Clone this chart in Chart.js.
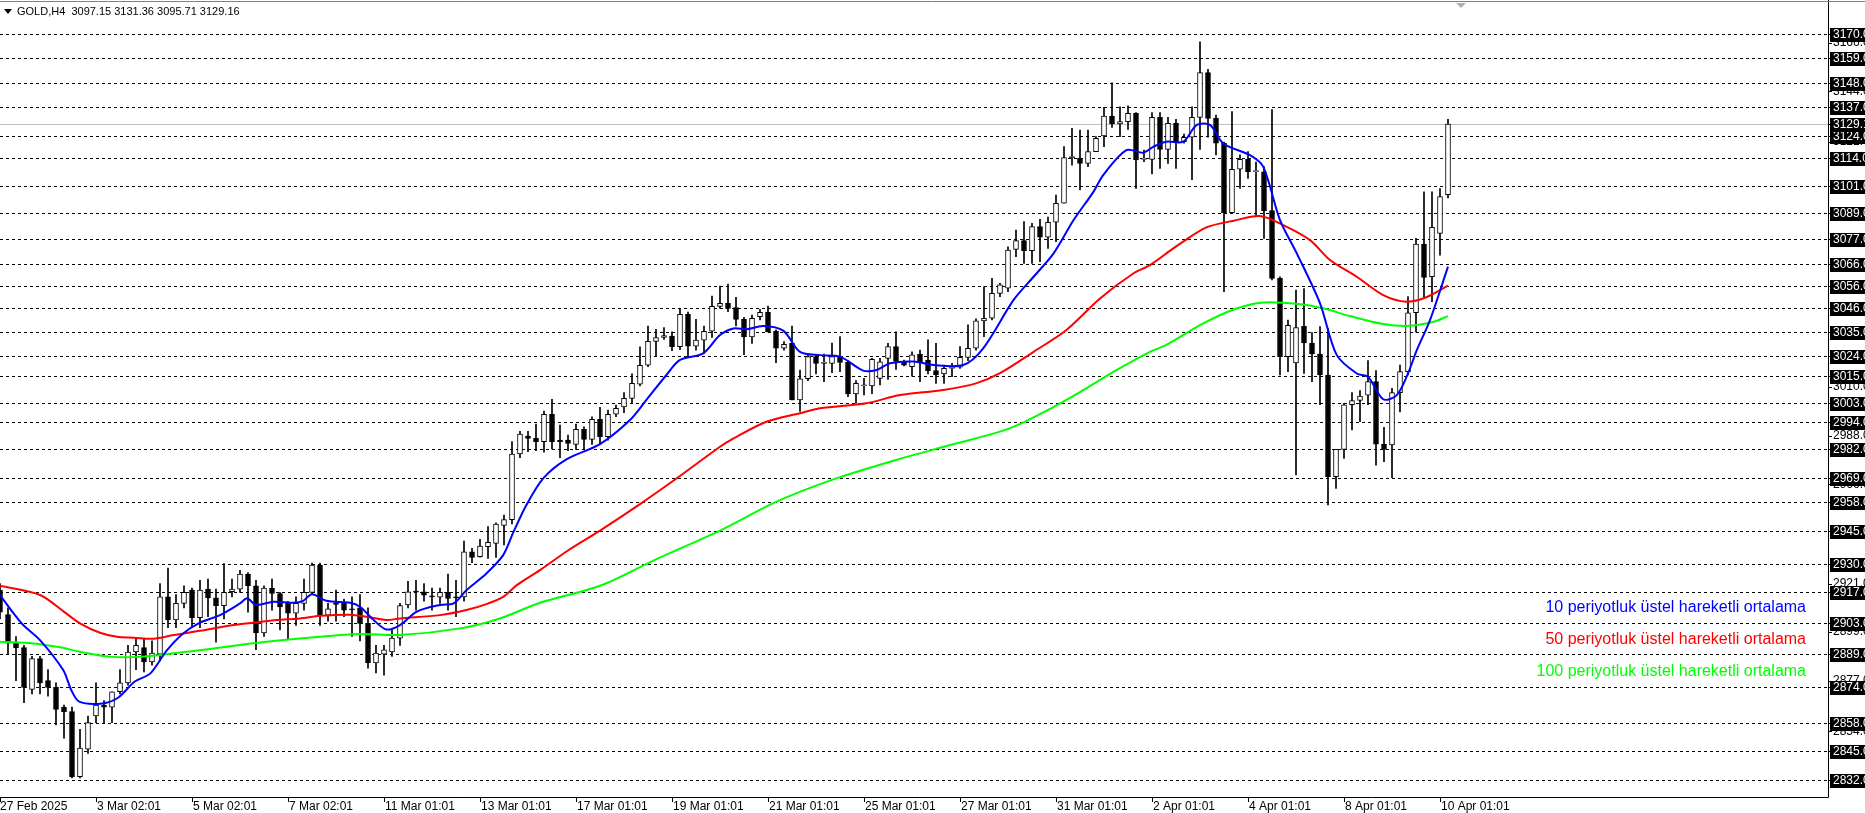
<!DOCTYPE html>
<html><head><meta charset="utf-8">
<script src="https://cdn.jsdelivr.net/npm/chart.js@4.4.1/dist/chart.umd.min.js"></script>
<style>html,body{margin:0;padding:0;background:#fff;overflow:hidden}#wrap{width:1865px;height:813px;position:relative}</style>
</head><body><div id="wrap"><canvas id="c"></canvas></div>
<script>
// ---- DATA ----
const opens = [2918,2907,2894,2892,2873,2887,2877,2874,2865,2863,2833.5,2846,2861,2866,2865,2872,2876,2890,2892,2885.5,
2889,2915,2904.5,2912,2918,2905.5,2918.5,2914.5,2911,2917.3,2918.5,2925.3,2920,2898.6,2919,2916.5,2912,2907.6,2912,2917,
2929.4,2906.7,2912.3,2912,2909.3,2910,2903,2885,2889,2890,2896.3,2911.3,2917.3,2917.3,2915,2914.8,2917,2914.6,2915,2935.4,
2933.2,2937.7,2939.2,2947.3,2950,2979.7,2987.8,2986.8,2985.3,2997.7,2986,2986,2984,2990.9,2986.3,2995.4,2987.6,2997.7,3001,3004.9,
3011.3,3019.9,3030.7,3032.5,3033.1,3028.3,3043,3028.6,3031.3,3035.3,3046.6,3048,3046.1,3040.7,3032.8,3041.9,3043.9,3035.4,3027.6,3029.8,
3004.2,3013.8,3023.8,3020.8,3020.8,3023.5,3021.2,3006.9,3010.5,3010.5,3014,3023,3028.4,3021.6,3019.3,3025,3022.3,3017.5,3016,3018.5,
3019,3023.5,3027.6,3040,3041.2,3052.5,3054.8,3072.4,3076.4,3071.8,3082.7,3077.9,3084.7,3093.3,3114,3113.7,3111.4,3116.7,3123.8,3132.8,
3129.2,3130.3,3134,3113.2,3113.2,3132.2,3117.7,3129.5,3121.2,3123.2,3132.2,3152.5,3131.8,3120.5,3089,3108.7,3113.2,3107.6,3107.6,3090,
3059.3,3023.8,3021,3037.6,3030,3025,3015.5,2969.4,2981.8,3002,3004,3006.4,3012.5,2984.2,2983.8,3007.5,3017,3043.7,3074.8,3060,
3079.7,3097.15];
const highs = [2921,2910,2897,2893,2888,2888,2882,2876,2866,2865,2855,2861,2876,2868,2872,2882,2893,2896,2896,2895,
2921,2928,2916,2920,2919,2922.5,2923,2918.5,2930,2923,2927,2926,2922.5,2920,2923,2917,2913,2915,2923,2930.3,
2930.3,2912,2918,2914,2915,2916,2910,2893,2893,2900,2912,2922,2922.5,2921,2919,2919,2925.3,2922.5,2940.3,2937,
2941,2946.8,2948.5,2952,2985.3,2990,2990,2993.3,2999.2,3004.5,2992.8,2988.3,2993.3,2992,2996.6,3000.8,2999.6,3001.9,3007.5,3016,
3028.3,3037.7,3036.2,3037,3035,3045.2,3044,3040.7,3037.7,3051.3,3055.8,3056.7,3050.7,3041.6,3042.7,3045.2,3046.7,3036,3030.6,3037.7,
3017.7,3024.5,3024.5,3025,3030,3032.9,3022,3013,3014,3023,3023,3029.9,3035.1,3022.3,3026,3026.8,3031.4,3029.9,3020,3020.8,
3028.4,3038.2,3041,3055.5,3059.3,3057,3073.6,3081.2,3085,3084.2,3086,3087,3097,3119,3127.3,3126.5,3126.5,3123.5,3136.8,3147.9,
3137,3137.4,3134.4,3117.4,3134.4,3134.4,3132.2,3131.3,3124.7,3137,3166.5,3154,3133.3,3121,3134.8,3115.2,3116.7,3112,3109.9,3135.8,
3060,3040.4,3054,3054.7,3034.7,3037.4,3036.6,2981.8,3002.7,3007.5,3008.4,3022,3017.5,2991.8,3009.5,3020,3051,3077.4,3098.5,3098.5,
3100,3131.36];
const lows = [2905,2889,2877,2867,2871,2871,2870,2857,2851,2833,2833,2844,2858,2858,2858,2871,2875,2882,2881,2884,
2886,2901,2901,2910,2901,2901,2906,2894.5,2905,2915,2917,2908,2891,2897,2909,2900,2896,2902,2909,2916,
2902,2904,2904,2906,2897,2895,2882.7,2880.5,2879.5,2888,2893,2910,2909,2913,2909,2912,2909,2906,2913,2930.5,
2933,2932.4,2932.9,2938.5,2948,2978,2980.8,2981.2,2980.5,2982,2978,2981.2,2981.8,2982.1,2984,2984.2,2986,2996.6,2998.4,3003,
3010.5,3019.3,3024,3031.6,3026.5,3027,3023.5,3026.8,3025.3,3032.5,3045.7,3044.2,3037.7,3024.7,3029.8,3040.4,3035,3021.1,3026.8,3004.2,
2999,3012.9,3016,3012.5,3016.6,3017,3005.7,3002.7,3006.5,3007,3011,3013.5,3018,3019.6,3015,3012.5,3016,3011.7,3011.7,3014.7,
3018.5,3022,3026.8,3032.9,3040.4,3051,3053.3,3069.1,3066,3066,3066.9,3072.9,3075.9,3093.3,3110.6,3099.3,3109.9,3116.7,3119,3127.7,
3123.5,3126.8,3100,3112.1,3106.6,3109.1,3111.4,3109.1,3120.5,3104,3117.7,3123.2,3115.2,3053.3,3088.7,3100,3104.6,3087.2,3077.4,3058.6,
3015.5,3017,2970.2,3016.2,3012.5,3002,2956.6,2964.1,2977.7,2990.6,2994.4,3002,2974.7,2976.2,2969,2998.8,3015.5,3035,3050.7,3048.7,
3069.8,3095.71];
const closes = [2908,2894,2892,2874,2887,2876,2874,2864,2863,2833.5,2846.5,2858,2866,2865,2872,2876,2890,2893,2885.5,2889.5,
2915,2904.5,2912,2917,2905.5,2918,2914.5,2911,2917,2918.5,2925.3,2920,2898.6,2919,2916.5,2910.4,2907.6,2912,2917,2929.4,
2906.7,2909.5,2911.6,2909,2909.1,2903,2885,2889.5,2891,2896.3,2911,2917.3,2917.1,2915.8,2914.9,2917,2914.3,2914.5,2935.4,2932.9,
2938,2939.7,2947.9,2950,2979.7,2988.7,2986.8,2985.3,2997.7,2985.3,2985.3,2984.5,2990.9,2986.3,2995.4,2987.6,2997.7,3000.4,3004.9,3011.7,
3019.9,3030.7,3032.5,3033.4,3028.3,3043,3028.6,3031.3,3035.3,3046.6,3048,3045.7,3040.7,3032.8,3041.2,3043.9,3035,3027.6,3029.4,3004.2,
3013.8,3023.8,3020.8,3020.8,3023.8,3021.2,3006.9,3011.7,3010.5,3022.6,3021.5,3028.4,3021.6,3020,3024.6,3021,3017.5,3015.5,3018.5,3018.5,
3023.5,3027.6,3040,3041.2,3052.5,3056.3,3072.1,3076.4,3071.8,3082.7,3077.9,3084.7,3093.3,3114,3114,3111.4,3116.7,3122.7,3132.8,3129.2,
3130.3,3134,3112.9,3113.2,3132.2,3117.7,3129.5,3121.2,3123.2,3132.2,3152.5,3131.8,3120.5,3089,3108.7,3113.2,3107.6,3107.6,3090,3059.3,
3023.8,3038,3037,3030,3025,3015.5,2969.4,2981.8,3002,3003.9,3006,3012.5,2984.2,2981.8,3007.5,3017,3043.7,3074.8,3059.7,3082.4,
3096.3,3129.16];
const ema10 = [[0,2915.8],[1.7,2907.5],[2.9,2902.2],[5,2895.4],[7.9,2881.8],[8.9,2872.8],[9.9,2867.5],[12.8,2866.7],[14.8,2869.4],[16.8,2876.5],[18.8,2880.3],[20.8,2890.5],[22.9,2898.4],[25,2903.3],[27.5,2906.7],[30,2912],[30.9,2914.3],[32,2911.3],[34.2,2912.8],[36.7,2912.3],[37.9,2913.2],[39,2916.2],[40.8,2913.2],[43.75,2912.3],[45,2910.5],[46.7,2904.5],[48.3,2900.2],[50,2902.2],[52.1,2908.3],[55,2911.3],[56.7,2912],[58.3,2918],[60.8,2925.6],[62.9,2933.9],[64.2,2944.5],[65.8,2956.6],[67.9,2968.7],[70.8,2977.3],[75,2984.2],[78.75,2995.1],[80.8,3004.2],[83.3,3015.5],[85,3022.3],[87.9,3025.3],[90,3033.6],[91.7,3036.6],[93.3,3036.2],[95.4,3037.7],[97.9,3035.6],[100,3026],[102.5,3024.5],[105,3023.8],[107.9,3017.5],[109.6,3017.8],[111.25,3020.8],[114.2,3021.6],[116.7,3020],[120.4,3020],[122.9,3027.6],[126.7,3049.5],[129.2,3060],[131.7,3070.6],[134.2,3085.7],[136.7,3098.6],[137.9,3106.1],[140.8,3117.4],[142.9,3116.2],[144.2,3119],[145.8,3121.2],[147.9,3121.2],[149.6,3128.8],[151.25,3128.8],[152.9,3120.4],[156.25,3115.1],[157.9,3109.9],[160,3085.7],[162.1,3070.6],[165,3048],[167.1,3024.5],[169.6,3016.2],[171,3014.7],[172.9,3004.5],[174.6,3006.4],[176,3016.2],[177.1,3026.8],[178.75,3040.4],[181,3064.6]];
const ema50 = [[0,2920],[5,2915.8],[8,2908.2],[10,2903],[12.5,2898.7],[14.6,2896.9],[16.7,2896.5],[19.2,2896],[21.7,2897.7],[25,2899.6],[29.2,2902.2],[31.7,2903.3],[34.6,2904.5],[37.5,2905.2],[40,2906.4],[43.75,2906.9],[45.8,2906],[48.3,2904.5],[50,2905.2],[55,2906.7],[58.3,2909],[60.8,2911.7],[62.9,2915],[64.6,2920.3],[67.5,2927.1],[71,2936],[75,2945],[80,2957],[84.6,2968.7],[90,2983],[91.7,2986.8],[95.8,2994.3],[100,2998.2],[102.5,3000.4],[108.3,3002.7],[112.5,3006.4],[117.9,3008.7],[122,3011.7],[125,3016.3],[129.2,3026],[133.3,3035.9],[137.5,3050.2],[141.7,3061.6],[143.75,3065.3],[145.8,3070.6],[147.9,3075.9],[150.8,3082.4],[154.2,3085.4],[157.5,3087.5],[160.4,3083.4],[163.75,3076.6],[166.25,3067.6],[169.6,3060],[172.9,3051.7],[175.8,3048.7],[178.3,3050.7],[181,3056]];
const ema100 = [[0,2894.6],[4.2,2893.9],[7.5,2892.1],[10,2890.1],[13.75,2887.9],[17.9,2887.9],[21.7,2889.4],[26.7,2891.6],[33.3,2894.6],[40,2896.9],[45,2898.1],[50,2897.7],[57.5,2900.7],[62.5,2905.2],[67.5,2912.3],[75,2920],[82,2932],[90,2945],[97,2958],[104,2968],[112,2977],[119,2984],[126.25,2991.4],[133.3,3004.2],[139.6,3017.8],[143.75,3026],[145.8,3029.1],[150,3038.1],[154.2,3045.2],[157.9,3048.4],[162.5,3047.6],[165.4,3045.7],[168.75,3042.2],[172.9,3038.6],[176.25,3037.8],[179.2,3039.6],[181,3042.2]];
const gridLevels = [3170,3159,3148,3137,3124,3114,3101,3089,3077,3066,3056,3046,3035,3024,3015,3003,2994,2982,2969,2958,2945,2930,2917,2903,2889,2874,2858,2845,2832];
const minorLevels = [3166,3144,3121,3010,2988,2966,2921,2899,2877,2854];
const xTickBars = [0,12,24,36,48,60,72,84,96,108,120,132,144,156,168,180];
const xTickLabels = ['27 Feb 2025','3 Mar 02:01','5 Mar 02:01','7 Mar 02:01','11 Mar 01:01','13 Mar 01:01','17 Mar 01:01','19 Mar 01:01','21 Mar 01:01','25 Mar 01:01','27 Mar 01:01','31 Mar 01:01','2 Apr 01:01','4 Apr 01:01','8 Apr 01:01','10 Apr 01:01'];
const lastPrice = 3129.16;
const headerText = 'GOLD,H4  3097.15 3131.36 3095.71 3129.16';
const legendTexts = ['10 periyotluk üstel hareketli ortalama','50 periyotluk üstel hareketli ortalama','100 periyotluk üstel hareketli ortalama'];
const legendColors = ['#0000ff','#ff0000','#00ff00'];

// ---- BUILD ----
const wickData = highs.map((h,i)=>({x:i,y:[lows[i],h]}));
const bodyData = opens.map((o,i)=>{let a=Math.min(o,closes[i]),b=Math.max(o,closes[i]);if(b-a<0.5){b=a+0.5;}return {x:i,y:[a,b]};});
const bodyFill = opens.map((o,i)=>closes[i]>=o?'#ffffff':'#000000');
const pts = arr=>arr.map(p=>({x:p[0],y:p[1]}));

const FONT = "'Liberation Sans', Arial, sans-serif";
const deco = {
  id:'deco',
  beforeDatasetsDraw(chart){
    const {ctx,chartArea:ca,scales:{x,y}}=chart;
    ctx.save();
    ctx.strokeStyle='#000';ctx.lineWidth=1;ctx.setLineDash([3,3]);
    gridLevels.forEach(p=>{const yy=Math.round(y.getPixelForValue(p))+0.5;ctx.beginPath();ctx.moveTo(ca.left,yy);ctx.lineTo(ca.right,yy);ctx.stroke();});
    ctx.setLineDash([]);
    ctx.strokeStyle='#c0c0c0';
    const ly=Math.round(y.getPixelForValue(lastPrice))+0.5;
    ctx.beginPath();ctx.moveTo(ca.left,ly);ctx.lineTo(ca.right,ly);ctx.stroke();
    ctx.restore();
  },
  afterDraw(chart){
    const {ctx,chartArea:ca,scales:{x,y}}=chart;
    ctx.save();
    ctx.strokeStyle='#000';ctx.lineWidth=1;
    ctx.beginPath();ctx.moveTo(ca.right+0.5,0);ctx.lineTo(ca.right+0.5,ca.bottom+0.5);ctx.lineTo(0,ca.bottom+0.5);ctx.stroke();
    ctx.strokeStyle='#808080';
    ctx.beginPath();ctx.moveTo(0,1.5);ctx.lineTo(1865,1.5);ctx.stroke();
    ctx.font='12px '+FONT;ctx.textBaseline='middle';ctx.fillStyle='#000';
    minorLevels.forEach(p=>{const yy=y.getPixelForValue(p);ctx.fillText(p.toFixed(2),ca.right+5,yy);ctx.fillRect(ca.right,Math.round(yy),4,1);});
    const drawBox=(p)=>{const yy=Math.round(y.getPixelForValue(p));ctx.fillStyle='#000';ctx.fillRect(ca.right+2,yy-6,40,14);ctx.fillRect(ca.right,yy,4,1);ctx.fillStyle='#fff';ctx.fillText(p.toFixed(2),ca.right+5,yy+1);};
    gridLevels.forEach(drawBox);
    drawBox(lastPrice);
    ctx.fillStyle='#000';ctx.textBaseline='middle';ctx.font='12px '+FONT;
    xTickBars.forEach((b,i)=>{const xx=Math.round(x.getPixelForValue(b));ctx.fillRect(xx,ca.bottom,1,5);ctx.fillText(xTickLabels[i],xx+(i===0?0:1),ca.bottom+10);});
    ctx.font='11px '+FONT;
    ctx.beginPath();ctx.moveTo(4,9);ctx.lineTo(12,9);ctx.lineTo(8,14);ctx.closePath();ctx.fill();
    ctx.fillText(headerText,17,12);
    ctx.fillStyle='#b0b0b0';ctx.beginPath();ctx.moveTo(1456,3);ctx.lineTo(1466,3);ctx.lineTo(1461,8);ctx.closePath();ctx.fill();
    ctx.font='16px '+FONT;ctx.textAlign='right';
    legendTexts.forEach((t,i)=>{ctx.fillStyle=legendColors[i];ctx.fillText(t,1806,608+i*32);});
    ctx.restore();
  }
};

new Chart(document.getElementById('c'),{
  data:{datasets:[
    {type:'line',data:pts(ema10),borderColor:'#0000ff',borderWidth:2,pointRadius:0,tension:0.3,order:1},
    {type:'line',data:pts(ema50),borderColor:'#ff0000',borderWidth:2,pointRadius:0,tension:0.3,order:1},
    {type:'line',data:pts(ema100),borderColor:'#00ff00',borderWidth:2,pointRadius:0,tension:0.3,order:1},
    {type:'bar',data:bodyData,backgroundColor:bodyFill,borderColor:'#000',borderWidth:1,borderSkipped:false,barThickness:5,grouped:false,order:2},
    {type:'bar',data:wickData,backgroundColor:'#000',borderWidth:0,barThickness:1,grouped:false,order:3}
  ]},
  options:{
    responsive:true,maintainAspectRatio:false,animation:false,devicePixelRatio:1,
    layout:{padding:{left:0,top:0,right:37,bottom:16}},
    plugins:{legend:{display:false},tooltip:{enabled:false}},
    scales:{
      x:{type:'linear',min:0,max:228.5,display:false,offset:false},
      y:{type:'linear',min:2824.3,max:3185.4,display:false}
    }
  },
  plugins:[deco]
});
</script></body></html>
